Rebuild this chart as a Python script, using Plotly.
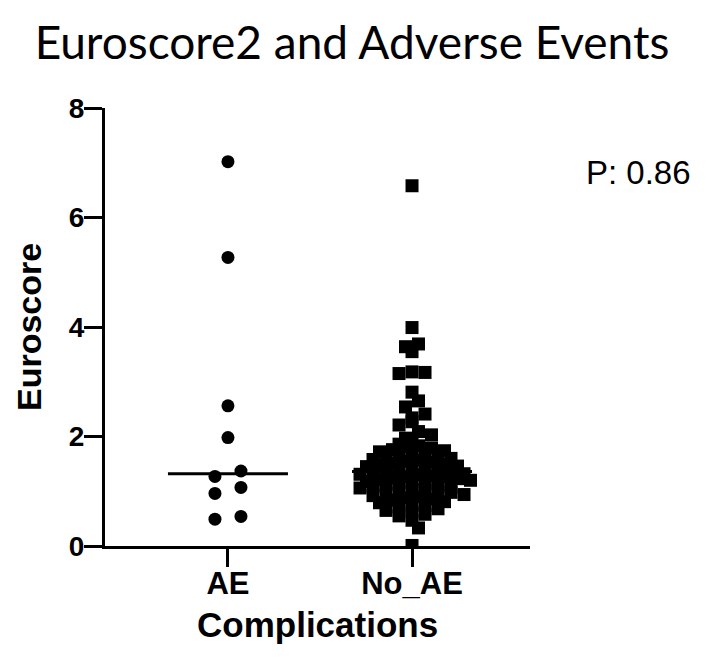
import numpy as np
import plotly.graph_objects as go

# ---- data -------------------------------------------------------------
categories = ["AE", "No_AE"]

ae_values = [7.02, 5.27, 2.56, 1.98, 1.37, 1.27, 1.07, 0.96, 0.54, 0.49]

no_ae_values = [
    6.58, 3.99, 3.69, 3.64, 3.55, 3.18, 3.17, 3.15, 2.81, 2.65, 2.54, 2.41,
    2.34, 2.27, 2.21, 2.09, 2.03, 1.97, 1.96,
    1.86, 1.83, 1.81, 1.79, 1.76, 1.74, 1.72, 1.70, 1.68, 1.66, 1.64,
    1.62, 1.60, 1.58, 1.57, 1.55, 1.53, 1.51, 1.49, 1.48, 1.46, 1.45,
    1.43, 1.41, 1.40, 1.38, 1.37,
    1.35, 1.34, 1.32, 1.31, 1.30, 1.28, 1.27, 1.26, 1.24, 1.23,
    1.21, 1.20, 1.18, 1.17, 1.15, 1.14, 1.12, 1.11, 1.09, 1.07,
    1.06, 1.04, 1.03, 1.01, 0.99, 0.98, 0.96, 0.94, 0.92, 0.90,
    0.88, 0.86, 0.84, 0.81, 0.79, 0.77,
    0.74, 0.71, 0.68, 0.65, 0.62, 0.58, 0.55,
    0.47, 0.33, 0.01,
]

y_ticks = [0, 2, 4, 6, 8]
p_text = "P: 0.86"

# ---- geometry ---------------------------------------------------------
W, H = 720, 662
M_L, M_R, M_T, M_B = 105, 190, 108, 116
plot_w = W - M_L - M_R
plot_h = H - M_T - M_B
X_RANGE = [-0.668, 1.641]
Y_RANGE = [0, 8]
PX_PER_X = plot_w / (X_RANGE[1] - X_RANGE[0])
PX_PER_Y = plot_h / (Y_RANGE[1] - Y_RANGE[0])
MARKER_PX = 13


def row_offsets(values, spacing_px, row_px, stagger=False):
    """Scatter-dot layout: bin points into rows, spread each row symmetrically
    and, optionally, slide a row half a step so it sits between the previous one."""
    vals = np.asarray(values, dtype=float)
    order = np.argsort(-vals, kind="stable")
    rows, current, start = [], [], None
    for idx in order:
        v = vals[idx]
        if start is None or (start - v) * PX_PER_Y >= row_px:
            if current:
                rows.append(current)
            current, start = [idx], v
        else:
            current.append(idx)
    if current:
        rows.append(current)

    offsets = np.zeros(len(vals))
    prev_pos, prev_low = None, None
    shifts = [0.0, spacing_px / 2, -spacing_px / 2]
    for row in rows:
        n = len(row)
        base = np.array([(i - (n - 1) / 2) * spacing_px for i in range(n)])
        shift = 0.0
        row_high = vals[row].max() * PX_PER_Y
        if stagger and prev_pos is not None and prev_low - row_high < MARKER_PX:
            def overlap(s):
                d = np.abs((base + s)[:, None] - prev_pos[None, :])
                return np.clip(MARKER_PX - d, 0, None).sum()
            shift = min(shifts, key=lambda s: (round(overlap(s), 6), abs(s)))
        pos = sorted(base + shift, key=lambda s: (abs(s - shift), -s))
        for idx, s in zip(row, pos):
            offsets[idx] = s / PX_PER_X
        prev_pos = base + shift
        prev_low = vals[row].min() * PX_PER_Y
    return offsets


ae_x = 0 + row_offsets(ae_values, 26, 8)
no_ae_x = 1 + row_offsets(no_ae_values, 13, 7, stagger=True)

SANS = "Liberation Sans, Arial, sans-serif"
BOLD = dict(family=SANS, color="black", weight="bold")

fig = go.Figure()

fig.add_trace(go.Scatter(
    x=ae_x, y=ae_values, mode="markers",
    marker=dict(symbol="circle", size=13, color="black", line=dict(width=0)),
    hoverinfo="y", showlegend=False,
))
fig.add_trace(go.Scatter(
    x=no_ae_x, y=no_ae_values, mode="markers",
    marker=dict(symbol="square", size=13, color="black", line=dict(width=0)),
    hoverinfo="y", showlegend=False,
))

# median bars
half = 60 / PX_PER_X
for i, vals in enumerate([ae_values, no_ae_values]):
    med = float(np.median(vals))
    fig.add_trace(go.Scatter(
        x=[i - half, i + half], y=[med, med], mode="lines",
        line=dict(color="black", width=3), hoverinfo="skip", showlegend=False,
    ))

fig.update_layout(
    width=W, height=H, autosize=False,
    margin=dict(l=M_L, r=M_R, t=M_T, b=M_B, pad=0),
    paper_bgcolor="white", plot_bgcolor="white",
    title=dict(
        text="Euroscore2 and Adverse Events",
        font=dict(family="Lato, sans-serif", size=46, color="black"),
        x=352 / W, xanchor="center", xref="container",
        y=1 - 43 / H, yanchor="middle", yref="container",
    ),
    xaxis=dict(
        range=X_RANGE, tickmode="array", tickvals=[0, 1], ticktext=categories,
        ticks="outside", ticklen=18, tickwidth=3, tickcolor="black",
        showline=True, linewidth=3, linecolor="black",
        showgrid=False, zeroline=False, ticklabelstandoff=-10,
        tickfont=dict(size=31, **BOLD),
    ),
    yaxis=dict(
        range=Y_RANGE, tickmode="array", tickvals=y_ticks,
        ticks="outside", ticklen=18, tickwidth=3, tickcolor="black",
        showline=True, linewidth=3, linecolor="black",
        showgrid=False, zeroline=False, ticklabelstandoff=-6,
        tickfont=dict(size=28, **BOLD),
    ),
    annotations=[
        dict(text="Complications", xref="paper", yref="paper",
             x=0.5, y=-(624 - M_T - plot_h) / plot_h,
             xanchor="center", yanchor="middle", showarrow=False,
             font=dict(size=35, **BOLD)),
        dict(text="Euroscore", xref="paper", yref="paper",
             x=(29 - M_L) / plot_w, y=0.5, textangle=-90,
             xanchor="center", yanchor="middle", showarrow=False,
             font=dict(size=34, **BOLD)),
        dict(text=p_text, xref="paper", yref="paper",
             x=(584 - M_L) / plot_w, y=(M_T + plot_h - 172) / plot_h,
             xanchor="left", yanchor="middle", showarrow=False,
             font=dict(family=SANS, size=33, color="black")),
    ],
)

fig.write_html("out.html")
